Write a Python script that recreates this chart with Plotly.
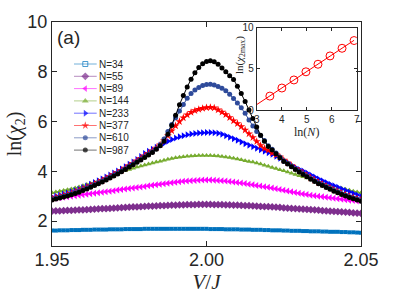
import numpy as np
import plotly.graph_objects as go

# ---------------- data ----------------
N_values = [34, 55, 89, 144, 233, 377, 610, 987]
V = np.round(np.linspace(1.95, 2.05, 81), 5)

chi_N34 = [1.62,1.62,1.63,1.63,1.63,1.64,1.64,1.64,1.65,1.65,
           1.65,1.66,1.66,1.66,1.66,1.67,1.67,1.67,1.67,1.68,
           1.68,1.68,1.68,1.68,1.69,1.69,1.69,1.69,1.69,1.69,
           1.69,1.69,1.69,1.69,1.69,1.69,1.69,1.69,1.69,1.69,
           1.69,1.68,1.68,1.68,1.68,1.67,1.67,1.67,1.67,1.66,
           1.66,1.66,1.65,1.65,1.65,1.64,1.64,1.63,1.63,1.63,
           1.62,1.62,1.61,1.61,1.61,1.60,1.60,1.59,1.59,1.59,
           1.58,1.58,1.57,1.57,1.57,1.56,1.56,1.55,1.55,1.54,
           1.53]
chi_N55 = [2.40,2.41,2.41,2.42,2.43,2.43,2.44,2.45,2.45,2.46,
           2.47,2.48,2.49,2.50,2.50,2.51,2.52,2.53,2.54,2.55,
           2.56,2.57,2.57,2.58,2.59,2.60,2.60,2.61,2.62,2.62,
           2.63,2.64,2.64,2.65,2.65,2.66,2.66,2.66,2.67,2.67,
           2.67,2.67,2.66,2.66,2.66,2.65,2.65,2.64,2.64,2.63,
           2.62,2.62,2.61,2.60,2.59,2.58,2.58,2.57,2.56,2.55,
           2.53,2.52,2.51,2.50,2.49,2.48,2.47,2.46,2.45,2.44,
           2.42,2.41,2.40,2.39,2.38,2.37,2.36,2.35,2.33,2.32,
           2.31]
chi_N89 = [2.90,2.92,2.94,2.96,2.98,3.00,3.02,3.04,3.06,3.08,
           3.10,3.12,3.14,3.16,3.18,3.20,3.22,3.25,3.27,3.29,
           3.31,3.33,3.35,3.37,3.39,3.42,3.44,3.46,3.48,3.50,
           3.52,3.54,3.56,3.58,3.60,3.61,3.62,3.63,3.64,3.65,
           3.65,3.65,3.64,3.63,3.62,3.61,3.59,3.57,3.55,3.53,
           3.51,3.48,3.46,3.43,3.41,3.38,3.36,3.33,3.30,3.27,
           3.24,3.21,3.18,3.15,3.12,3.09,3.07,3.04,3.02,3.00,
           2.98,2.96,2.94,2.92,2.90,2.88,2.86,2.84,2.83,2.81,
           2.80]
chi_N144 = [3.14,3.17,3.20,3.23,3.26,3.29,3.33,3.37,3.42,3.47,
            3.51,3.56,3.62,3.68,3.74,3.80,3.87,3.93,3.98,4.03,
            4.07,4.12,4.17,4.21,4.25,4.29,4.33,4.37,4.41,4.45,
            4.49,4.52,4.55,4.57,4.59,4.61,4.62,4.63,4.64,4.64,
            4.64,4.64,4.63,4.62,4.60,4.58,4.56,4.53,4.50,4.47,
            4.43,4.40,4.37,4.33,4.29,4.24,4.20,4.15,4.11,4.06,
            4.02,3.97,3.92,3.87,3.82,3.78,3.73,3.68,3.63,3.59,
            3.54,3.50,3.45,3.41,3.36,3.32,3.28,3.24,3.20,3.17,
            3.14]
chi_N233 = [2.97,3.01,3.05,3.09,3.13,3.18,3.23,3.28,3.35,3.41,
            3.48,3.55,3.62,3.69,3.77,3.85,3.93,4.01,4.10,4.19,
            4.29,4.38,4.48,4.60,4.72,4.81,4.89,4.97,5.05,5.13,
            5.21,5.28,5.34,5.39,5.43,5.47,5.50,5.52,5.54,5.55,
            5.56,5.56,5.55,5.53,5.49,5.43,5.37,5.31,5.25,5.18,
            5.11,5.05,4.99,4.93,4.87,4.81,4.75,4.68,4.60,4.52,
            4.44,4.35,4.25,4.16,4.08,4.01,3.93,3.85,3.77,3.69,
            3.62,3.55,3.48,3.42,3.36,3.29,3.23,3.17,3.11,3.05,
            2.99]
chi_N377 = [2.91,2.95,2.99,3.03,3.07,3.12,3.17,3.22,3.29,3.35,
            3.42,3.49,3.56,3.63,3.71,3.79,3.87,3.95,4.04,4.13,
            4.23,4.32,4.42,4.52,4.62,4.72,4.82,4.94,5.07,5.24,
            5.43,5.63,5.83,6.00,6.15,6.27,6.37,6.44,6.49,6.53,
            6.56,6.57,6.55,6.47,6.38,6.28,6.16,6.03,5.92,5.80,
            5.66,5.51,5.36,5.20,5.04,4.92,4.85,4.74,4.66,4.58,
            4.45,4.34,4.23,4.12,4.02,3.92,3.83,3.73,3.64,3.55,
            3.48,3.40,3.33,3.25,3.19,3.12,3.06,3.00,2.95,2.90,
            2.86]
chi_N610 = [2.88,2.92,2.96,3.00,3.04,3.09,3.14,3.19,3.26,3.32,
            3.39,3.46,3.53,3.60,3.68,3.76,3.84,3.92,4.01,4.10,
            4.20,4.29,4.39,4.49,4.59,4.69,4.79,4.91,5.06,5.30,
            5.60,5.88,6.15,6.42,6.69,6.94,7.13,7.27,7.37,7.45,
            7.49,7.50,7.47,7.41,7.34,7.24,7.10,6.93,6.75,6.55,
            6.33,6.06,5.82,5.60,5.44,5.24,5.03,4.89,4.74,4.58,
            4.43,4.32,4.21,4.10,4.00,3.90,3.81,3.71,3.62,3.53,
            3.46,3.38,3.31,3.23,3.17,3.10,3.04,2.98,2.93,2.88,
            2.83]
chi_N987 = [2.85,2.89,2.93,2.97,3.01,3.06,3.11,3.16,3.23,3.29,
            3.36,3.43,3.50,3.57,3.65,3.73,3.81,3.89,3.98,4.07,
            4.17,4.26,4.36,4.46,4.56,4.66,4.76,4.89,5.03,5.21,
            5.49,5.84,6.25,6.68,7.05,7.39,7.70,7.96,8.17,8.32,
            8.41,8.44,8.40,8.30,8.15,8.00,7.84,7.69,7.42,7.13,
            6.81,6.46,6.12,5.78,5.45,5.21,5.00,4.86,4.71,4.55,
            4.40,4.29,4.18,4.07,3.97,3.87,3.78,3.68,3.59,3.50,
            3.43,3.35,3.28,3.20,3.14,3.07,3.01,2.95,2.90,2.85,
            2.80]

series = [chi_N34, chi_N55, chi_N89, chi_N144, chi_N233, chi_N377, chi_N610, chi_N987]
labels = ["N=%d" % n for n in N_values]

# inset: ln of the peak value vs ln N
inset_lnchi_max = [1.69, 2.67, 3.65, 4.64, 5.56, 6.57, 7.50, 8.44]

# ---------------- style ----------------
colors = ["#0072BD", "#7E2F8E", "#FF00FF", "#77AC30", "#0000FF", "#FF0000", "#2F4B9B", "#000000"]
plot_symbols = ["square", "diamond", "triangle-left", "triangle-up", "triangle-right",
                "star", "circle", "circle"]
legend_symbols = ["square-open", "diamond", "triangle-left", "triangle-up", "triangle-right",
                  "star", "circle", "circle"]
sizes = [4, 6, 6, 5, 6, 6, 5, 5]
axis_col = "#262626"

fig = go.Figure()

for y, c, s, sz, lab in zip(series, colors, plot_symbols, sizes, labels):
    fig.add_trace(go.Scatter(
        x=V, y=y, mode="lines+markers", name=lab,
        line=dict(color=c, width=1),
        marker=dict(symbol=s, size=sz, color=c, line=dict(width=0)),
        xaxis="x", yaxis="y", showlegend=False))

# inset
lnN = np.log(np.array(N_values, dtype=float))
slope, icpt = np.polyfit(lnN, inset_lnchi_max, 1)
fit_x = np.array([3.0, lnN[-1]])
fig.add_trace(go.Scatter(x=fit_x, y=slope * fit_x + icpt, mode="lines",
                         line=dict(color="#FF0000", width=1),
                         xaxis="x2", yaxis="y2", showlegend=False))
fig.add_trace(go.Scatter(x=lnN, y=inset_lnchi_max, mode="markers",
                         marker=dict(symbol="circle-open", size=8, color="#FF0000",
                                     line=dict(width=1, color="#FF0000")),
                         xaxis="x2", yaxis="y2", showlegend=False))

# custom compact legend drawn in a pixel-coordinate overlay of the main axes
PX_L, PX_R, PX_T, PX_B = 52, 361, 22, 246
row_y = [64 + 12.3 * k for k in range(len(labels))]
fig.add_trace(go.Scatter(
    x=[85.3] * len(labels), y=row_y, mode="markers",
    marker=dict(symbol=legend_symbols, size=[5, 6, 6, 6, 6, 6, 5, 5], color=colors,
                line=dict(width=[1, 0, 0, 0, 0, 0, 0, 0], color=colors)),
    xaxis="x3", yaxis="y3", showlegend=False, hoverinfo="skip"))

shapes = []
annotations = []
for yy, c, lab in zip(row_y, colors, labels):
    shapes.append(dict(type="line", xref="x3", yref="y3", x0=74, x1=96.7, y0=yy, y1=yy,
                       line=dict(color=c, width=1), opacity=0.55, layer="below"))
    annotations.append(dict(x=97, y=yy, xref="x3", yref="y3", text=lab, showarrow=False,
                            xanchor="left", yanchor="middle",
                            font=dict(family="Liberation Sans", size=10, color="#262626")))
annotations.append(dict(x=55, y=37, xref="x3", yref="y3", text="(a)", showarrow=False,
                        xanchor="left", yanchor="middle",
                        font=dict(family="Liberation Sans", size=19, color="#262626")))
# inset y-axis title
annotations.append(dict(x=240, y=55, xref="x3", yref="y3", text="ln(<i>χ</i><sub>2max</sub>)",
                        showarrow=False, textangle=-90, xanchor="center", yanchor="middle",
                        font=dict(family="Liberation Serif", size=11, color="#262626")))

W, H = 415, 303
ax_common = dict(showgrid=False, zeroline=False, showline=True, linecolor=axis_col,
                 linewidth=1, mirror="ticks", ticks="inside", tickcolor=axis_col,
                 automargin=False)

fig.update_layout(
    width=W, height=H,
    margin=dict(l=PX_L, r=W - PX_R, t=PX_T, b=H - PX_B),
    paper_bgcolor="white", plot_bgcolor="rgba(0,0,0,0)",
    xaxis=dict(range=[1.95, 2.05], tickvals=[1.95, 2.0, 2.05], ticktext=["1.95", "2.00", "2.05"],
               ticklen=5, ticklabelstandoff=-3,
               tickfont=dict(family="Liberation Sans", size=18, color=axis_col),
               title=dict(text="<i>V</i>/<i>J</i>", standoff=4,
                          font=dict(family="Liberation Serif", size=21, color=axis_col)),
               domain=[0, 1], anchor="y", **ax_common),
    yaxis=dict(range=[1, 10], tickvals=[2, 4, 6, 8, 10],
               ticklen=5, tickfont=dict(family="Liberation Sans", size=18, color=axis_col),
               title=dict(text="ln(<i>χ</i><sub>2</sub>)", standoff=0,
                          font=dict(family="Liberation Serif", size=20, color=axis_col)),
               domain=[0, 1], anchor="x", **ax_common),
    xaxis2=dict(range=[3, 7], tickvals=[3, 4, 5, 6, 7], ticklen=3,
                tickfont=dict(family="Liberation Sans", size=10, color=axis_col),
                title=dict(text="ln(<i>N</i>)", standoff=0,
                           font=dict(family="Liberation Serif", size=12, color=axis_col)),
                domain=[(256.7 - PX_L) / (PX_R - PX_L), (356.7 - PX_L) / (PX_R - PX_L)],
                anchor="y2", **ax_common),
    yaxis2=dict(range=[0, 10], tickvals=[0, 5, 10], ticklen=3,
                tickfont=dict(family="Liberation Sans", size=10, color=axis_col),
                domain=[(PX_B - 110) / (PX_B - PX_T), (PX_B - 27.7) / (PX_B - PX_T)],
                anchor="x2", side="left", **ax_common),
    xaxis3=dict(range=[PX_L, PX_R], overlaying="x", anchor="y3", visible=False, fixedrange=True),
    yaxis3=dict(range=[PX_B, PX_T], overlaying="y", anchor="x3", visible=False, fixedrange=True),
    shapes=shapes, annotations=annotations,
    showlegend=False,
)

fig.write_html("out.html", config={"displayModeBar": False},
               post_script="document.body.style.margin='0';document.body.style.padding='0';")
